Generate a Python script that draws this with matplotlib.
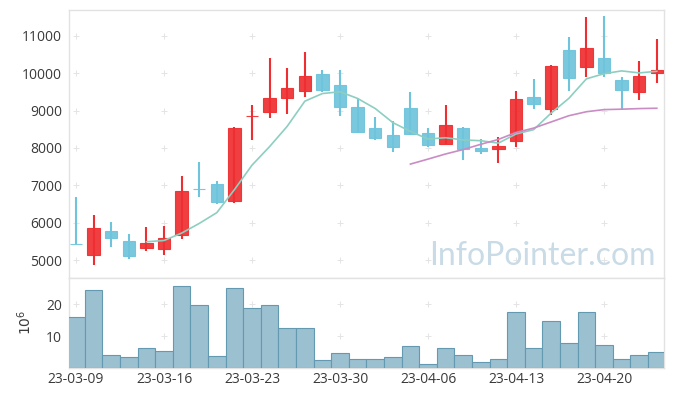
import matplotlib
matplotlib.use('Agg')
import matplotlib.pyplot as plt
import numpy as np
import pandas as pd

dates = ['23-03-09', '23-03-10', '23-03-13', '23-03-14', '23-03-15', '23-03-16', '23-03-17',
         '23-03-20', '23-03-21', '23-03-22', '23-03-23', '23-03-24', '23-03-27', '23-03-28',
         '23-03-29', '23-03-30', '23-03-31', '23-04-03', '23-04-04', '23-04-05', '23-04-06',
         '23-04-07', '23-04-10', '23-04-11', '23-04-12', '23-04-13', '23-04-14', '23-04-17',
         '23-04-18', '23-04-19', '23-04-20', '23-04-21', '23-04-24', '23-04-25']
opens = [5440, 5142, 5777, 5509, 5330, 5303, 5678, 6910, 7036, 6589, 8850, 8957, 9348, 9519,
         9983, 9680, 9099, 8536, 8349, 9072, 8402, 8116, 8536, 8000, 7982, 8196, 9367, 9053,
         10626, 10178, 10412, 9822, 9510, 9996]
highs = [6680, 6198, 6018, 5688, 5876, 5919, 7242, 7617, 7116, 8560, 9144, 10420, 10152, 10564,
         10090, 10082, 9305, 8823, 8732, 9493, 8536, 9144, 8550, 8234, 8303, 9527, 9849, 10210,
         10966, 11510, 11537, 9895, 10323, 10913]
lows = [5420, 4858, 5340, 5019, 5233, 5126, 5571, 6680, 6492, 6519, 8215, 8796, 8911, 9375,
        9501, 8850, 8394, 8207, 7885, 8349, 8027, 8100, 7671, 7848, 7591, 8035, 9053, 8885,
        9536, 9911, 9895, 9019, 9286, 9742]
closes = [5420, 5857, 5597, 5115, 5455, 5589, 6848, 6890, 6562, 8536, 8870, 9332, 9608, 9921,
          9562, 9107, 8437, 8260, 8035, 8383, 8089, 8609, 7966, 7928, 8062, 9313, 9187, 10197,
          9884, 10679, 10002, 9562, 9929, 10100]
volumes = [15.9, 24.4, 3.9, 3.3, 6.1, 5.3, 25.7, 19.7, 3.6, 25.0, 18.7, 19.7, 12.4, 12.4,
           2.3, 4.5, 2.9, 2.6, 3.3, 6.7, 1.1, 6.1, 3.9, 1.7, 2.9, 17.5, 6.1, 14.6, 7.7, 17.5,
           7.1, 2.6, 3.9, 4.9]
price_ticks = [5000, 6000, 7000, 8000, 9000, 10000, 11000]
volume_ticks = [10, 20]

RED = '#ee2e31'
BLUE = '#6ec4dc'
TEAL = '#8ccfc1'
PURPLE = '#c98cc4'
VOL_FACE = '#9bc0d0'
VOL_EDGE = '#6499b2'
SPINE = '#e2e2e2'
TXT = '#3a3a3a'

plt.rcParams['font.family'] = ['Open Sans', 'DejaVu Sans']

W, H = 673, 396
fig = plt.figure(figsize=(W / 100, H / 100), dpi=100)
left = 69 / W
width = (663.5 - 69) / W
ax = fig.add_axes([left, (H - 278) / H, width, (278 - 10) / H])
axv = fig.add_axes([left, (H - 367.7) / H, width, (367.7 - 278) / H], sharex=ax)

x = np.arange(len(dates))
o = np.array(opens, float)
h = np.array(highs, float)
l = np.array(lows, float)
c = np.array(closes, float)

for i in range(len(x)):
    col = RED if c[i] >= o[i] else BLUE
    ax.vlines(x[i], l[i], h[i], color=col, lw=1.5, zorder=3)
    bot = min(o[i], c[i])
    ht = abs(c[i] - o[i])
    ax.bar(x[i], ht, bottom=bot, width=0.7, color=col, edgecolor=col,
           lw=0.8, alpha=0.92, zorder=4)

close_s = pd.Series(closes, dtype=float)
ma5 = close_s.rolling(5).mean()
ma20 = close_s.rolling(20).mean()
ax.plot(x, ma5, color=TEAL, lw=1.2, zorder=5)
ax.plot(x, ma20, color=PURPLE, lw=1.2, zorder=5)

axv.bar(x, volumes, width=1.0, color=VOL_FACE, edgecolor=VOL_EDGE, lw=0.8, zorder=3)

ax.set_xlim(-0.4, 33.38)
ax.set_ylim(4518, 11696)
axv.set_ylim(0, 28.3)

ax.set_yticks(price_ticks)
axv.set_yticks(volume_ticks)
axv.set_xticks(x[::5])
axv.set_xticklabels([dates[i] for i in x[::5]])
plt.setp(ax.get_xticklabels(), visible=False)

for a in (ax, axv):
    a.tick_params(length=0, labelsize=10, labelcolor=TXT, pad=5)
    for s in a.spines.values():
        s.set_color(SPINE)
        s.set_linewidth(1.0)
    # "+" grid markers at tick intersections
    xt = a.get_xticks()
    yt = a.get_yticks()
    gx, gy = np.meshgrid(xt, yt)
    a.plot(gx.ravel(), gy.ravel(), ls='none', marker='+', ms=4, mew=0.7,
           color='#e4e4e4', zorder=1)
axv.tick_params(axis='x', pad=3)

axv.set_ylabel('$10^6$', fontsize=10, color=TXT, labelpad=8)

ax.text(0.986, 0.047, 'InfoPointer.com', transform=ax.transAxes, ha='right', va='baseline',
        fontsize=23, color='#c9dbe6', zorder=2,
        family=['Lato', 'Open Sans', 'DejaVu Sans'])

fig.savefig('out.png', dpi=100)
